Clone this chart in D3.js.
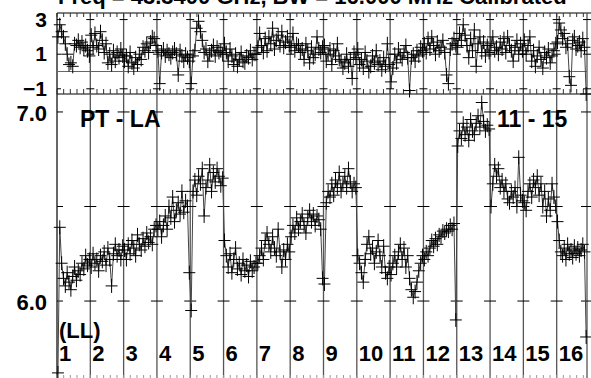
<!DOCTYPE html>
<html>
<head>
<meta charset="utf-8">
<script src="https://cdn.jsdelivr.net/npm/d3@7"></script>
<style>
html,body{margin:0;padding:0;background:#fff;}
svg{display:block;}
text{font-family:"Liberation Sans",Arial,Helvetica,sans-serif;font-weight:bold;fill:#000;}
</style>
</head>
<body>
<svg id="chart" width="591" height="378"></svg>
<script>
// ---------- data ----------
const title = "Freq = 43.3400 GHz, BW = 16.000 MHz  Calibrated";
const baselineLabel = "PT - LA";
const sourceLabel = "11 - 15";
const polLabel = "(LL)";
const segmentLabels = ["1","2","3","4","5","6","7","8","9","10","11","12","13","14","15","16"];
const segmentStart = [0,1,2,3,4,5,6,7,8,9,10,11,12,13,14,15];
const segmentEnd   = [1,2,3,4,5,6,7,8,9,10,11,12,13,14,15,15.91];

const phaseTicks = [3, 1, -1];
const ampTicks = [7.0, 6.5, 6.0];
const ampTickLabels = ["7.0", "6.0"];

// top panel (phase) values per segment
const phase = [
  [2.0, 2.7, 2.3, 2.0, 1.6, 1.0, 0.4, 0.5, 0.3, 1.6, 1.5, 1.8, 1.4, 1.7, 1.3, 1.5, 1.2, 0.9],
  [2.1, 1.4, 2.2, 1.5, 1.3, 2.3, 1.8, 1.1, 1.6, 0.5, 1.0, 0.4, 1.2, 0.6, 1.1, 0.8, 1.3, 0.9],
  [0.6, 0.9, 0.3, 1.1, 0.5, 0.2, 0.8, 0.4, 1.0, 0.7, 1.4, 1.2, 1.6, 1.1, 1.7, 2.0, 1.9, 1.5],
  [1.2, -0.7, 1.1, 1.3, 0.9, 1.2, 1.0, 0.8, 1.1, 1.3, 1.0, -0.2, 1.2, 0.9, 0.6, 1.0, 0.8, 0.6],
  [-0.7, 0.9, 1.2, 2.5, 2.9, 2.3, 1.8, 1.1, 1.3, 0.6, 1.0, 1.2, 1.5, 0.9, 1.4, 1.1, 1.2, 1.0],
  [1.6, 1.1, 0.6, 1.3, 0.9, 0.4, 1.0, 0.3, 0.7, 1.1, 0.6, 0.5, 0.9, 0.8, 1.2, 0.7, 1.0, 1.0],
  [1.4, 2.2, 1.5, 1.1, 1.9, 1.2, 2.0, 1.6, 2.5, 1.3, 1.8, 2.1, 1.5, 2.3, 1.4, 1.7, 2.0, 1.5],
  [1.4, 2.2, 1.2, 1.6, 1.5, 1.1, 1.3, 0.7, 1.6, 1.2, 0.5, 1.4, 0.8, 1.0, 2.0, 1.3, 1.1, 1.4],
  [1.5, 0.6, 1.0, 1.3, 0.4, 1.2, 0.9, 1.6, 0.7, 0.6, 0.2, 0.5, 1.0, 0.3, 0.7, -0.4, 1.1, 0.8],
  [1.3, 0.4, 0.7, 0.2, 1.1, 0.6, 0.0, 0.3, 0.9, 0.5, 1.2, 0.4, 0.6, 0.1, 0.8, 0.3, 1.6, 0.4],
  [-0.6, 0.2, 1.0, 0.5, 1.3, 0.9, 0.7, 1.1, 1.5, 0.8, -1.1, 0.8, 1.0, 0.6, 1.2, 0.9, 1.4, 1.2],
  [1.6, 1.1, 1.9, 1.3, 2.0, 1.5, 1.0, 1.7, 1.2, 1.4, 1.8, 1.1, -0.2, -0.7, 1.3, 1.6, 1.9, 1.5],
  [1.4, 2.2, 1.8, 2.7, 2.1, 1.5, 0.8, 1.9, 1.2, 2.4, 0.3, 1.6, 2.0, 1.1, 1.7, 0.9, 1.5, 1.1],
  [1.6, 2.0, 1.2, 1.4, 1.0, 1.7, 1.3, 1.9, 1.1, 2.0, 1.5, 1.2, 0.6, 1.4, 1.8, 1.0, 1.6, 1.2],
  [1.8, 1.0, 1.5, 2.0, 0.6, 1.2, 0.3, 0.9, 1.4, 0.7, 0.2, 1.1, 0.8, 1.3, 0.5, 0.9, 1.2, 1.6],
  [1.7, 2.8, 2.4, 1.9, 2.2, 1.4, 1.6, -0.3, -0.8, 1.8, 2.0, 1.3, 1.5, 1.7, 1.2, 1.9, 1.4, -1.3]
];

// bottom panel (amplitude) values per segment
const amp = [
  [5.62, 6.39, 6.20, 6.12, 6.08, 6.15, 6.10, 6.06, 6.13, 6.18, 6.11, 6.16, 6.14, 6.20, 6.17, 6.24, 6.19, 6.22],
  [6.18, 6.25, 6.20, 6.22, 6.16, 6.24, 6.21, 6.26, 6.19, 6.28, 6.22, 6.08, 6.25, 6.30, 6.24, 6.27, 6.22, 6.29],
  [6.27, 6.22, 6.30, 6.25, 6.32, 6.28, 6.24, 6.35, 6.30, 6.27, 6.33, 6.29, 6.36, 6.31, 6.34, 6.30, 6.38, 6.40],
  [6.38, 6.42, 6.34, 6.40, 6.45, 6.38, 6.50, 6.44, 6.55, 6.42, 6.48, 6.52, 6.46, 6.58, 6.47, 6.53, 6.50, 6.15],
  [5.95, 6.58, 6.64, 6.56, 6.66, 6.62, 6.70, 6.45, 6.60, 6.64, 6.72, 6.58, 6.68, 6.63, 6.70, 6.66, 6.61, 6.65],
  [6.32, 6.24, 6.18, 6.25, 6.15, 6.22, 6.28, 6.17, 6.20, 6.14, 6.22, 6.16, 6.19, 6.13, 6.21, 6.16, 6.18, 6.20],
  [6.20, 6.24, 6.28, 6.22, 6.32, 6.36, 6.30, 6.26, 6.34, 6.28, 6.24, 6.38, 6.26, 6.18, 6.27, 6.22, 6.30, 6.26],
  [6.34, 6.40, 6.36, 6.44, 6.38, 6.42, 6.46, 6.40, 6.36, 6.44, 6.48, 6.42, 6.46, 6.40, 6.45, 6.43, 6.38, 6.12],
  [6.09, 6.52, 6.58, 6.55, 6.62, 6.56, 6.64, 6.60, 6.68, 6.58, 6.62, 6.66, 6.60, 6.70, 6.63, 6.58, 6.62, 6.60],
  [6.24, 6.20, 6.15, 6.10, 6.22, 6.30, 6.34, 6.25, 6.28, 6.20, 6.26, 6.32, 6.24, 6.18, 6.29, 6.15, 6.12, 6.18],
  [6.14, 6.20, 6.24, 6.18, 6.26, 6.30, 6.22, 6.28, 6.18, 6.24, 6.12, 6.06, 6.02, 6.05, 6.10, 6.16, 6.20, 6.24],
  [6.22, 6.26, 6.24, 6.28, 6.32, 6.29, 6.33, 6.30, 6.35, 6.34, 6.37, 6.36, 6.38, 6.37, 6.40, 6.38, 6.41, 5.90],
  [6.82, 6.90, 6.86, 6.94, 6.88, 6.92, 6.85, 6.96, 6.90, 6.88, 6.94, 6.98, 6.92, 7.05, 6.95, 6.90, 6.93, 6.91],
  [6.50, 6.62, 6.72, 6.66, 6.70, 6.60, 6.64, 6.58, 6.62, 6.54, 6.52, 6.58, 6.55, 6.60, 6.50, 6.76, 6.56, 6.53],
  [6.52, 6.48, 6.58, 6.62, 6.55, 6.64, 6.60, 6.66, 6.56, 6.62, 6.50, 6.58, 6.45, 6.54, 6.48, 6.62, 6.55, 6.50],
  [6.42, 6.32, 6.26, 6.24, 6.28, 6.22, 6.30, 6.25, 6.27, 6.23, 6.29, 6.25, 6.28, 6.24, 6.27, 6.30, 6.26, 5.81]
];

// ---------- layout ----------
const svg = d3.select("#chart");
const left = 57, right = 587;
const topY0 = 13, topY1 = 94, botY0 = 94, botY1 = 378;

const x = d3.scaleLinear().domain([0, segmentEnd[segmentEnd.length-1]]).range([left, right]);
const yP = d3.scaleLinear().domain([-1.3, 3.38]).range([topY1, topY0]);
const yA = d3.scaleLinear().domain([5.593, 7.095]).range([botY1, botY0]);

function flatten(vals){
  const pts = [];
  vals.forEach((seg, s) => {
    const t0 = segmentStart[s], t1 = segmentEnd[s], n = seg.length;
    seg.forEach((v, i) => pts.push({t: t0 + (i + 0.5) / n * (t1 - t0), v}));
  });
  return pts;
}
const phasePts = flatten(phase);
const ampPts = flatten(amp);

// title (clipped at top edge, as in the original)
svg.append("text").attr("x", 58).attr("y", 4).attr("font-size", 22).text(title);

// frames
const frame = svg.append("g").attr("fill","none");
frame.append("line").attr("x1",left).attr("x2",right+4).attr("y1",topY0).attr("y2",topY0).attr("stroke","#555").attr("stroke-width",1.5);
frame.append("line").attr("x1",left).attr("x2",right+4).attr("y1",topY1).attr("y2",topY1).attr("stroke","#000").attr("stroke-width",1.2);
frame.append("line").attr("x1",left).attr("x2",left).attr("y1",topY0).attr("y2",botY1).attr("stroke","#000").attr("stroke-width",1.2);
frame.append("line").attr("x1",left).attr("x2",right).attr("y1",yP(0)).attr("y2",yP(0)).attr("stroke","#666").attr("stroke-width",1.2);

// dividers
const divs = segmentStart.slice(1).concat([segmentEnd[segmentEnd.length-1]]);
frame.selectAll(".div").data(divs).join("line")
  .attr("x1", d => x(d)).attr("x2", d => x(d))
  .attr("y1", topY0).attr("y2", botY1)
  .attr("stroke", "#555").attr("stroke-width", 1.3);

// minor ticks every 0.2
const minor = d3.range(0, 15.91, 0.2);
frame.selectAll(".mt").data(minor).join("line")
  .attr("x1", d => x(d)).attr("x2", d => x(d))
  .attr("y1", topY0).attr("y2", topY0 + 4).attr("stroke","#333");
frame.selectAll(".mb").data(minor).join("line")
  .attr("x1", d => x(d)).attr("x2", d => x(d))
  .attr("y1", topY1).attr("y2", topY1 - 5).attr("stroke","#333");
frame.selectAll(".mbb").data(minor).join("line")
  .attr("x1", d => x(d)).attr("x2", d => x(d))
  .attr("y1", botY1).attr("y2", botY1 - 3).attr("stroke","#999");

// horizontal tick crosses on dividers
const allDivs = [0].concat(divs);
ampTicks.forEach(v => {
  frame.selectAll(null).data(allDivs).join("line")
    .attr("x1", d => d === 0 ? x(d) : x(d) - 6).attr("x2", d => x(d) + 6)
    .attr("y1", yA(v)).attr("y2", yA(v)).attr("stroke","#000");
});
phaseTicks.forEach(v => {
  frame.selectAll(null).data(allDivs).join("line")
    .attr("x1", d => d === 0 ? x(d) : x(d) - 4).attr("x2", d => x(d) + 4)
    .attr("y1", yP(v)).attr("y2", yP(v)).attr("stroke","#000");
});

// axis labels
svg.selectAll(".pl").data(phaseTicks).join("text")
  .attr("x", 47).attr("y", d => yP(d) + 7).attr("text-anchor","end").attr("font-size", 21)
  .text(d => d3.format("d")(d));
svg.selectAll(".al").data(ampTickLabels).join("text")
  .attr("x", 47).attr("y", d => yA(+d) + 9).attr("text-anchor","end").attr("font-size", 22)
  .text(d => d);

// data
function drawSeries(pts, y){
  const g = svg.append("g");
  g.append("path").datum(pts)
    .attr("d", d3.line().x(d => x(d.t)).y(d => y(d.v)))
    .attr("fill","none").attr("stroke","#444").attr("stroke-width",1);
  g.selectAll(".c").data(pts).join("path")
    .attr("d", d => `M${x(d.t)-6},${y(d.v)}h12M${x(d.t)},${y(d.v)-7}v14`)
    .attr("stroke","#000").attr("stroke-width",1).attr("fill","none");
}
drawSeries(phasePts, yP);
drawSeries(ampPts, yA);

// labels
svg.append("text").attr("x", 80).attr("y", 127).attr("font-size", 23).text(baselineLabel);
svg.append("text").attr("x", 497).attr("y", 127).attr("font-size", 23).text(sourceLabel);
svg.append("text").attr("x", 59).attr("y", 338).attr("font-size", 22).text(polLabel);
svg.selectAll(".sl").data(segmentLabels).join("text")
  .attr("x", (d,i) => x(segmentStart[i]) + 2).attr("y", 361).attr("font-size", 22)
  .text(d => d);
</script>
</body>
</html>
